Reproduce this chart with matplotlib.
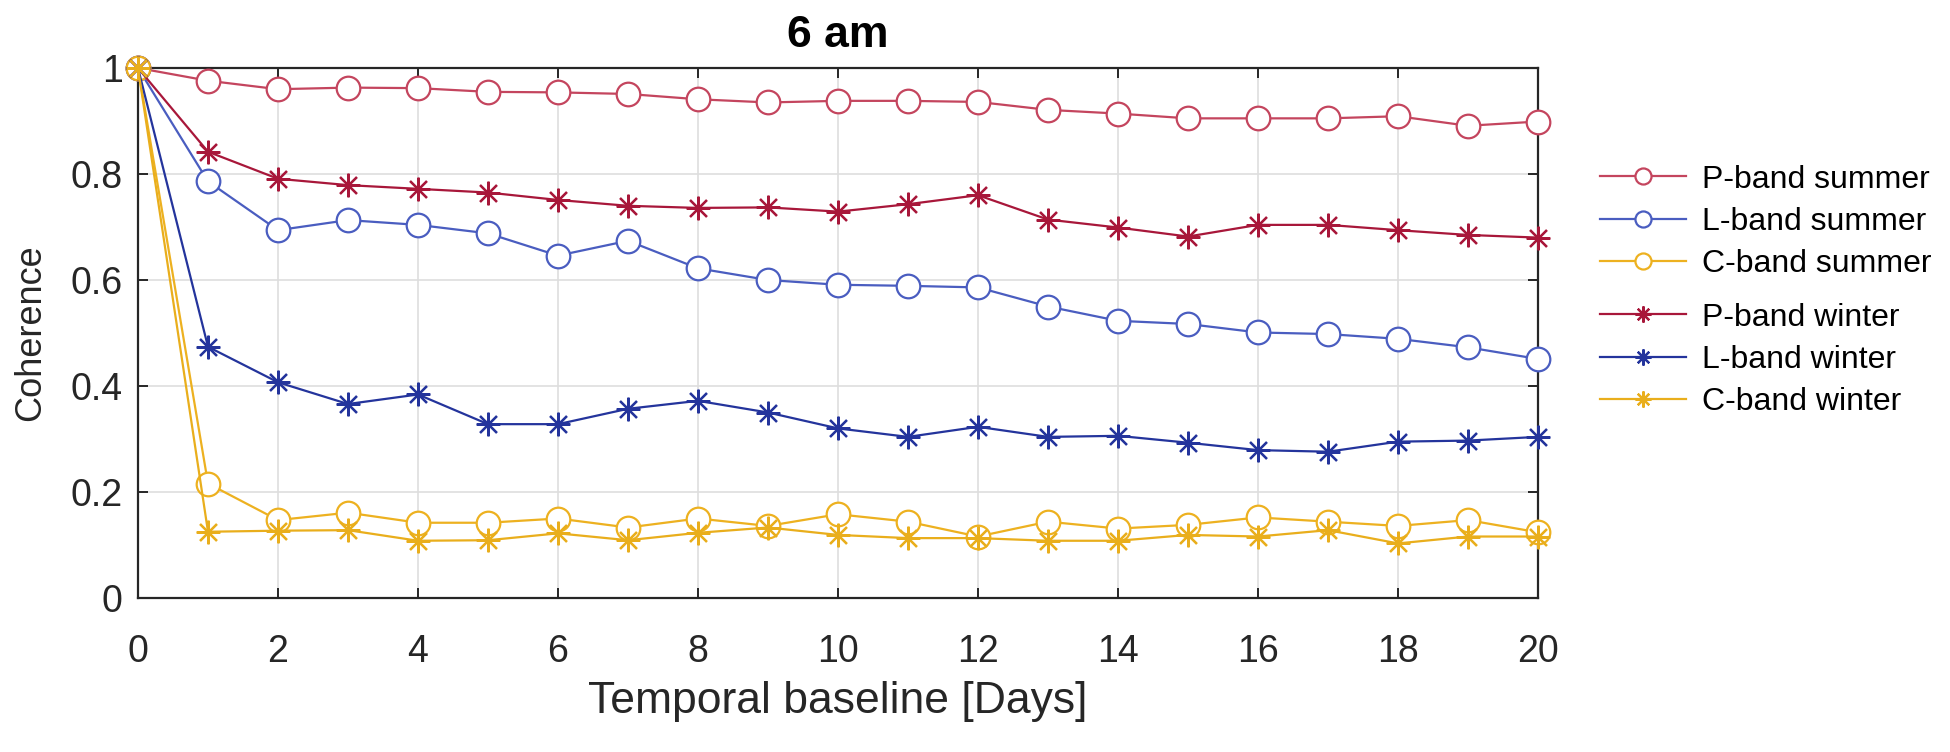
import matplotlib.pyplot as plt


# Coherence vs temporal baseline.
days = list(range(21))

p_summer = [1.0, 0.976, 0.960, 0.963, 0.962, 0.955, 0.954, 0.951, 0.941, 0.935, 0.938,
            0.938, 0.936, 0.921, 0.914, 0.905, 0.905, 0.905, 0.909, 0.891, 0.899]
l_summer = [1.0, 0.786, 0.694, 0.713, 0.704, 0.688, 0.646, 0.674, 0.622, 0.600, 0.591,
            0.589, 0.586, 0.550, 0.523, 0.517, 0.501, 0.498, 0.489, 0.473, 0.451]
c_summer = [1.0, 0.216, 0.147, 0.161, 0.142, 0.142, 0.150, 0.133, 0.150, 0.136, 0.158,
            0.144, 0.116, 0.144, 0.131, 0.138, 0.152, 0.144, 0.136, 0.147, 0.124]
p_winter = [1.0, 0.842, 0.791, 0.779, 0.772, 0.765, 0.751, 0.740, 0.736, 0.737, 0.729,
            0.743, 0.760, 0.714, 0.699, 0.682, 0.704, 0.704, 0.694, 0.685, 0.680]
l_winter = [1.0, 0.474, 0.407, 0.366, 0.384, 0.328, 0.328, 0.357, 0.372, 0.350, 0.320,
            0.304, 0.323, 0.304, 0.306, 0.293, 0.279, 0.276, 0.295, 0.297, 0.304]
c_winter = [1.0, 0.125, 0.127, 0.128, 0.108, 0.109, 0.122, 0.109, 0.123, 0.133, 0.119,
            0.113, 0.113, 0.108, 0.108, 0.119, 0.116, 0.128, 0.103, 0.116, 0.116]

summer_labels = ['P-band summer', 'L-band summer', 'C-band summer']
winter_labels = ['P-band winter', 'L-band winter', 'C-band winter']

xticks = list(range(0, 21, 2))
yticks = [0, 0.2, 0.4, 0.6, 0.8, 1.0]
yticklabels = ['0', '0.2', '0.4', '0.6', '0.8', '1']

plt.rcParams['font.family'] = ['Liberation Sans', 'DejaVu Sans']

fig = plt.figure(figsize=(19.5, 7.52), dpi=100)
ax = fig.add_axes([138/1950, 1 - 598/752, 1400/1950, 530/752])

summer_cols = ['#C4455E', '#4A5DC0', '#EDB120']
winter_cols = ['#A8173A', '#24349C', '#E9AE1C']
star = (8, 2, 0)

summer_lines = []
for vals, col, lab in zip([p_summer, l_summer, c_summer], summer_cols, summer_labels):
    ln, = ax.plot(days, vals, '-', color=col, lw=1.6, marker='o', ms=17,
                  mfc='white', mec=col, mew=1.6, label=lab, clip_on=False, zorder=3)
    summer_lines.append(ln)

winter_lines = []
for vals, col, lab in zip([p_winter, l_winter, c_winter], winter_cols, winter_labels):
    ln, = ax.plot(days, vals, '-', color=col, lw=1.6, marker=star, ms=17,
                  mec=col, mew=1.6, label=lab, clip_on=False, zorder=3)
    winter_lines.append(ln)

ax.set_xlim(0, 20)
ax.set_ylim(0, 1)
ax.set_xticks(xticks)
ax.set_yticks(yticks)
ax.set_yticklabels(yticklabels)
ax.grid(True, color='#dedede', lw=1.2)
ax.set_axisbelow(True)

for s in ax.spines.values():
    s.set_color('#262626')
    s.set_linewidth(1.6)
ax.tick_params(direction='in', length=7, width=1.4, color='#262626',
               top=True, right=True, labelcolor='#262626', labelsize=27)
ax.tick_params(axis='x', pad=26)
ax.tick_params(axis='y', pad=11)

ax.set_xlabel('Temporal baseline [Days]', fontsize=32, color='#262626', labelpad=8)
ax.set_ylabel('Coherence', fontsize=26, color='#262626', labelpad=16)
ax.set_title('6 am', fontsize=32, fontweight='bold', pad=15)

leg_kw = dict(loc='center left', bbox_transform=fig.transFigure, frameon=False,
              fontsize=23, borderpad=0, borderaxespad=0, handlelength=2.7,
              handletextpad=0.5, labelspacing=0.39, markerscale=0.68)
leg1 = ax.legend(handles=summer_lines, bbox_to_anchor=(1600/1950, 1 - 222/752), **leg_kw)
ax.add_artist(leg1)
ax.legend(handles=winter_lines, bbox_to_anchor=(1600/1950, 1 - 360/752), **leg_kw)

fig.savefig('out.png', dpi=100)
